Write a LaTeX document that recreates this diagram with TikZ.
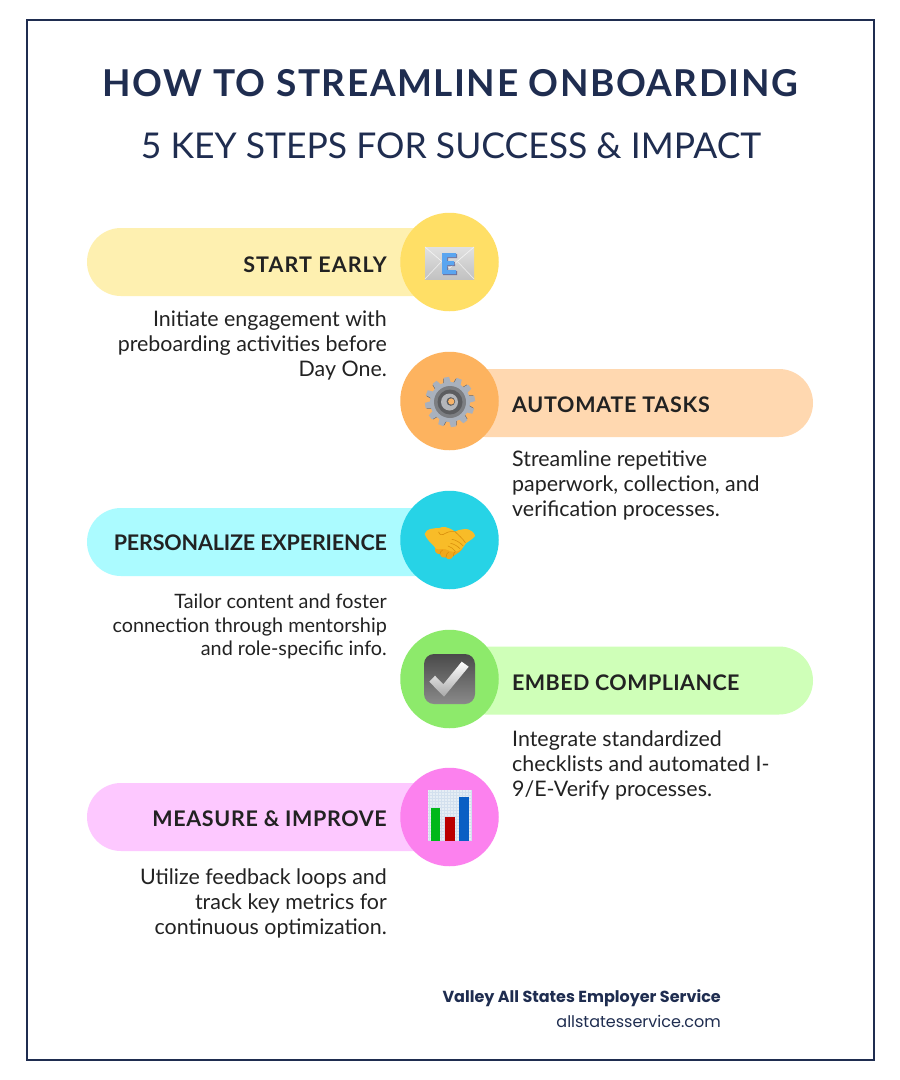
\documentclass[tikz,border=0pt]{standalone}
\usepackage{fontspec}
\setmainfont{Lato}
\newfontfamily\popfont{Poppins}
\definecolor{navy}{HTML}{1F2D50}
\definecolor{ink}{HTML}{222222}
\definecolor{pa}{HTML}{FEF0B0}\definecolor{pb}{HTML}{FFD8B0}\definecolor{pc}{HTML}{ABFBFF}\definecolor{pd}{HTML}{CFFFB8}\definecolor{pe}{HTML}{FDC8FF}
\definecolor{ca}{HTML}{FFDF66}\definecolor{cb}{HTML}{FDB35F}\definecolor{cc}{HTML}{27D3E6}\definecolor{cd}{HTML}{8DEA6B}\definecolor{ce}{HTML}{FC81EE}
\definecolor{eblue}{HTML}{5AA5F0}
\definecolor{g1}{HTML}{A9B1BD}\definecolor{g2}{HTML}{7C7E82}\definecolor{g3}{HTML}{5C5D60}\definecolor{g4}{HTML}{B4B6BA}\definecolor{g7}{HTML}{F8B368}\definecolor{g8}{HTML}{5E636C}
\definecolor{hs}{HTML}{F8BC28}\definecolor{hd}{HTML}{D98F0C}\definecolor{hm}{HTML}{F0A81C}
\definecolor{k1}{HTML}{4A4A4A}\definecolor{k2}{HTML}{8A8A8A}\definecolor{k3}{HTML}{A8A8A8}
\definecolor{b1}{HTML}{E6EEF5}\definecolor{b2}{HTML}{D3E0EE}\definecolor{b3}{HTML}{00B81A}\definecolor{b4}{HTML}{BB0000}\definecolor{b5}{HTML}{0A5FC4}
\newcommand{\ls}[1]{\addfontfeature{LetterSpace=#1}}
\tikzset{
 x=1pt,y=-1pt,
 pill/.style={rounded corners=34pt,minimum width=362pt,minimum height=68pt,inner sep=0pt,outer sep=0pt},
 disc/.style={circle,minimum size=98.5pt,inner sep=0pt,outer sep=0pt},
 headL/.style={anchor=base east,inner sep=0pt,text=ink,font=\fontsize{21.5}{25}\selectfont\bfseries},
 headR/.style={anchor=base west,inner sep=0pt,text=ink,font=\fontsize{21.5}{25}\selectfont\bfseries},
 bodyL/.style={anchor=north east,align=right,inner sep=0pt,text=ink,font=\fontsize{21.4}{25}\selectfont},
 bodyR/.style={anchor=north west,align=left,inner sep=0pt,text=ink,font=\fontsize{21.4}{25}\selectfont},
}
\begin{document}
\begin{tikzpicture}
\useasboundingbox (0,0) rectangle (900,1080);
\fill[white] (0,0) rectangle (900,1080);
\node[draw=navy,line width=2pt,minimum width=847pt,minimum height=1040pt,inner sep=0pt] (frame) at (450.5,540) {};
\node[text=navy,inner sep=0pt,anchor=base,font=\fontsize{37}{40}\selectfont\bfseries] (title) at (450.5,96) {\ls{4.1}HOW TO STREAMLINE ONBOARDING};
\node[text=navy,inner sep=0pt,anchor=base,font=\fontsize{35.5}{40}\selectfont] (subtitle) at (451,158.5) {5 KEY STEPS FOR SUCCESS \& IMPACT};
% pills
\node[pill,fill=pa] (p1) at (268,262) {};
\node[pill,fill=pb] (p2) at (632,403) {};
\node[pill,fill=pc] (p3) at (268,542) {};
\node[pill,fill=pd] (p4) at (632,680.5) {};
\node[pill,fill=pe] (p5) at (268,817) {};
% discs
\node[disc,fill=ca] (c1) at (449.5,262) {};
\node[disc,fill=cb] (c2) at (449.5,401) {};
\node[disc,fill=cc] (c3) at (449.5,540) {};
\node[disc,fill=cd] (c4) at (449.5,679) {};
\node[disc,fill=ce] (c5) at (449.5,817) {};
% heads
\node[headL] (h1) at (387,272) {\ls{5}START EARLY};
\node[headR] (h2) at (512,412) {\ls{3.3}AUTOMATE TASKS};
\node[headL] (h3) at (387,550) {\ls{-0.8}PERSONALIZE EXPERIENCE};
\node[headR] (h4) at (512,690) {\ls{2}EMBED COMPLIANCE};
\node[headL] (h5) at (387,826) {\ls{3}MEASURE \& IMPROVE};
% bodies
\node[bodyL] (t1) at (387,311) {Initiate engagement with\\preboarding activities before\\Day One.};
\node[bodyR] (t2) at (512,450.5) {Streamline repetitive\\paperwork, collection, and\\verification processes.};
\node[bodyL,font=\fontsize{19.8}{23.8}\selectfont] (t3) at (387,593.5) {Tailor content and foster\\connection through mentorship\\and role-specific info.};
\node[bodyR] (t4) at (512,730.5) {Integrate standardized\\checklists and automated I-\\9/E-Verify processes.};
\node[bodyL] (t5) at (387,868.5) {Utilize feedback loops and\\track key metrics for\\continuous optimization.};
% footer
\node[anchor=base east,inner sep=0pt,text=navy,font=\popfont\fontsize{16}{20}\selectfont\bfseries] (f1) at (721,1002) {Valley All States Employer Service};
\node[anchor=base east,inner sep=0pt,text=navy,font=\popfont\fontsize{16}{20}\selectfont] (f2) at (721,1027) {allstatesservice.com};
% envelope
\shade[top color=white!88!black,bottom color=white!76!black] (425,247) rectangle (474,279);
\draw[white!95!black,line width=.7pt] (425,247) -- (449.5,268) -- (474,247);
\draw[white!92!black,line width=.7pt] (425,279) -- (441,262) (474,279) -- (458,262);
\fill[blue!45!gray!60!black,opacity=.55] (443,254) -- (457,254) -- (457,258) -- (448,258) -- (448,262) -- (455,262) -- (455,266) -- (448,266) -- (448,271) -- (457,271) -- (457,275) -- (443,275) -- cycle;
\fill[eblue] (442,253) -- (456,253) -- (456,257) -- (447,257) -- (447,261) -- (454,261) -- (454,265) -- (447,265) -- (447,270) -- (456,270) -- (456,274) -- (442,274) -- cycle;
% gear
\begin{scope}[shift={(450,402)}]
\foreach \a in {0,30,...,330}{
  \fill[g8,rotate=\a+8,yshift=-1pt,xshift=-.7pt] (-3.6,-18) -- (-2.6,-25) -- (2.6,-25) -- (3.6,-18) -- cycle;
  \fill[g1,rotate=\a+8] (-3.6,-18) -- (-2.6,-25) -- (2.6,-25) -- (3.6,-18) -- cycle;
}
\fill[g1] (0,0) circle[radius=20];
\fill[g2] (0,0) circle[radius=16];
\fill[g3] (0,0) circle[radius=12.5];
\fill[g4] (-.5,0) circle[radius=8.5];
\fill[g3] (.8,-.5) circle[radius=4.3];
\fill[g7] (1.2,-.5) circle[radius=3.1];
\end{scope}
% handshake
\begin{scope}[shift={(420,520)},scale=1/3]
\fill[hm] (46,84) .. controls (42,95) and (50,103) .. (60,102) .. controls (62,112) and (72,116) .. (78,112) .. controls (82,120) and (94,120) .. (100,108) .. controls (112,100) and (122,95) .. (128,85) -- (90,70) -- cycle;
\fill[hs] (14,42) .. controls (16,34) and (24,28) .. (30,27) .. controls (40,23) and (50,26) .. (58,24) .. controls (68,18) and (85,20) .. (105,35) .. controls (112,32) and (120,28) .. (128,28) .. controls (140,26) and (150,28) .. (156,34) .. controls (162,40) and (166,44) .. (165,48) .. controls (160,56) and (148,62) .. (138,70) .. controls (134,78) and (128,84) .. (120,90) .. controls (108,96) and (100,98) .. (92,94) .. controls (80,88) and (70,84) .. (56,88) .. controls (50,90) and (44,84) .. (40,76) .. controls (30,68) and (18,54) .. (14,42) -- cycle;
\draw[hd,line width=.6pt,line cap=round] (56,36) .. controls (58,46) and (68,46) .. (76,40) .. controls (86,34) and (96,34) .. (105,35) (105,35) .. controls (115,45) and (128,55) .. (136,68)
 (96,58) .. controls (108,60) and (118,66) .. (130,78) (92,70) .. controls (102,72) and (112,78) .. (120,86) (84,78) .. controls (92,80) and (100,86) .. (106,94)
 (60,102) .. controls (60,96) and (64,92) .. (68,90) (78,112) .. controls (78,104) and (82,98) .. (86,96) (100,108) .. controls (100,102) and (102,98) .. (106,94);
\end{scope}
% checkbox
\shade[top color=k1,bottom color=k2,rounded corners=10pt] (424,654) rectangle (475,704);
\shade[top color=white,bottom color=k3] (429.3,681.7) -- (444,696.7) -- (468.7,666.7) -- (461.7,661.7) -- (443.3,684.3) -- (435,675.7) -- cycle;
% chart
\fill[b1] (428,790) rectangle (471,841);
\draw[b2,line width=.3pt,step=3pt] (428,790) grid (471,841);
\fill[b3] (430.5,808) rectangle (440,841);
\fill[b4] (445,817) rectangle (454.5,841);
\fill[b5] (459,797) rectangle (469,841);
\end{tikzpicture}
\end{document}
